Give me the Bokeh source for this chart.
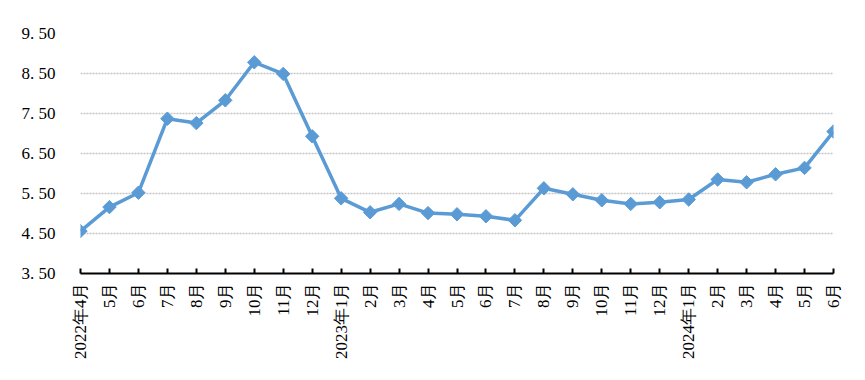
import math
from bokeh.plotting import figure
from bokeh.models import Range1d, FixedTicker, ColumnDataSource
from bokeh.embed import file_html
from bokeh.resources import INLINE

months = ["2022年4月", "5月", "6月", "7月", "8月", "9月", "10月", "11月", "12月",
          "2023年1月", "2月", "3月", "4月", "5月", "6月", "7月", "8月", "9月", "10月", "11月", "12月",
          "2024年1月", "2月", "3月", "4月", "5月", "6月"]
values = [4.56, 5.16, 5.52, 7.37, 7.26, 7.83, 8.78, 8.49, 6.93,
          5.38, 5.03, 5.24, 5.01, 4.98, 4.93, 4.83, 5.63, 5.48, 5.33, 5.24, 5.28,
          5.35, 5.85, 5.78, 5.98, 6.14, 7.05]
y_ticks = [3.5, 4.5, 5.5, 6.5, 7.5, 8.5, 9.5]
y_labels = ["3. 50", "4. 50", "5. 50", "6. 50", "7. 50", "8. 50", "9. 50"]

xs = list(range(len(months)))
src = ColumnDataSource(dict(x=xs, y=values))

p = figure(width=849, height=364, output_backend="svg", toolbar_location=None,
           x_range=Range1d(0, len(months) - 1), y_range=Range1d(3.5, 9.5),
           min_border_left=80, min_border_right=16, min_border_top=33, min_border_bottom=91)
p.outline_line_color = None
p.background_fill_color = "white"

font = "Liberation Serif"

# x axis
p.xaxis.ticker = FixedTicker(ticks=xs)
p.xaxis.major_label_overrides = {i: m for i, m in enumerate(months)}
p.xaxis.major_label_orientation = math.pi / 2
p.xaxis.major_label_text_font = font
p.xaxis.major_label_text_font_size = "17px"
p.xaxis.major_label_text_color = "black"
p.xaxis.major_label_standoff = 9
p.xaxis.axis_line_color = "black"
p.xaxis.axis_line_width = 2
p.xaxis.major_tick_line_color = "black"
p.xaxis.major_tick_line_width = 2
p.xaxis.major_tick_in = 5
p.xaxis.major_tick_out = 0
p.xaxis.minor_tick_line_color = None
p.xgrid.grid_line_color = None

# y axis
p.yaxis.ticker = FixedTicker(ticks=y_ticks)
p.yaxis.major_label_overrides = {t: l for t, l in zip(y_ticks, y_labels)}
p.yaxis.major_label_text_font = font
p.yaxis.major_label_text_font_size = "17px"
p.yaxis.major_label_text_color = "black"
p.yaxis.major_label_standoff = 19
p.yaxis.axis_line_color = None
p.yaxis.major_tick_line_color = None
p.yaxis.minor_tick_line_color = None
p.ygrid.grid_line_color = "#c4c4c4"
p.ygrid.grid_line_width = 1.5
p.ygrid.grid_line_dash = "2 1"

p.line("x", "y", source=src, line_color="#5b9bd5", line_width=3.5)
p.scatter("x", "y", source=src, marker="square", angle=math.pi / 4, size=9.5,
          fill_color="#5b9bd5", line_color="#5b9bd5")

open("out.html", "w").write(file_html(p, INLINE))
